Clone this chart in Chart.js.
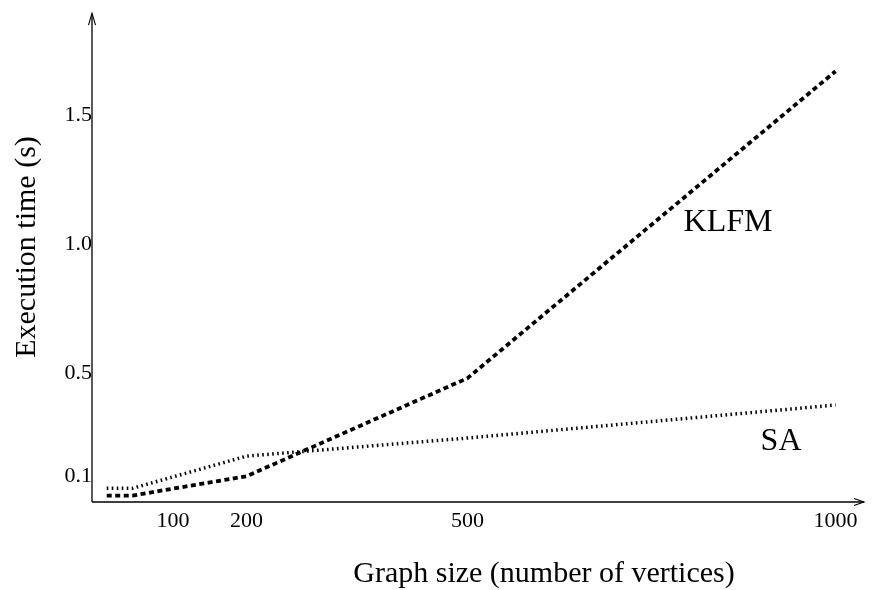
<!DOCTYPE html>
<html><head><meta charset="utf-8">
<script src="https://cdn.jsdelivr.net/npm/chart.js@4/dist/chart.umd.min.js"></script>
<style>html,body{margin:0;padding:0;background:#fff;}#wrap{width:874px;height:590px;}</style>
</head><body><div id="wrap"><canvas id="c" width="874" height="590"></canvas></div>
<script>
// ---- data ----
const vertices   = [10, 45, 200, 500, 1000];
const klfmTime   = [0.025, 0.025, 0.10, 0.48, 1.67];
const saTime     = [0.053, 0.053, 0.178, 0.248, 0.376];
const xTickValues = [100, 200, 500, 1000];
const yTickValues = [0.1, 0.5, 1.0, 1.5];
const seriesNames = ['KLFM', 'SA'];
const xTitle = 'Graph size (number of vertices)';
const yTitle = 'Execution time (s)';

const FONT = "'Liberation Serif', 'Times New Roman', serif";

const decorPlugin = {
  id: 'decor',
  afterDraw(chart, args, opts) {
    const ctx = chart.ctx, a = chart.chartArea;
    const xs = chart.scales.x, ys = chart.scales.y;
    ctx.save();
    ctx.strokeStyle = '#000';
    ctx.fillStyle = '#000';
    ctx.lineWidth = 1.3;
    // axes
    ctx.beginPath();
    ctx.moveTo(a.left, a.bottom); ctx.lineTo(a.right - 1, a.bottom);
    ctx.moveTo(a.left, a.bottom); ctx.lineTo(a.left, a.top + 1);
    ctx.stroke();
    // arrow heads
    ctx.lineWidth = 1.1;
    ctx.beginPath();
    ctx.moveTo(a.right - 11, a.bottom - 3.5); ctx.lineTo(a.right - 1, a.bottom); ctx.lineTo(a.right - 11, a.bottom + 3.5);
    ctx.moveTo(a.left - 3.5, a.top + 12); ctx.lineTo(a.left, a.top); ctx.lineTo(a.left + 3.5, a.top + 12);
    ctx.stroke();
    // axis titles
    ctx.font = '30px ' + FONT;
    ctx.textAlign = 'center';
    ctx.textBaseline = 'middle';
    ctx.fillText(xTitle, 544, 574);
    ctx.save();
    ctx.translate(27, 247);
    ctx.rotate(-Math.PI / 2);
    ctx.fillText(yTitle, 0, 0);
    ctx.restore();
    // series labels
    ctx.font = '32px ' + FONT;
    opts.labels.forEach(l => {
      ctx.fillText(l.text, xs.getPixelForValue(l.x), ys.getPixelForValue(l.y));
    });
    ctx.restore();
  }
};

new Chart(document.getElementById('c'), {
  type: 'line',
  data: {
    datasets: [
      {
        label: seriesNames[0],
        data: vertices.map((v, i) => ({ x: v, y: klfmTime[i] })),
        borderColor: '#000',
        borderWidth: 3.8,
        borderDash: [5, 3.5],
        borderCapStyle: 'butt',
        pointRadius: 0,
        tension: 0,
        fill: false
      },
      {
        label: seriesNames[1],
        data: vertices.map((v, i) => ({ x: v, y: saTime[i] })),
        borderColor: '#000',
        borderWidth: 3.5,
        borderDash: [1.6, 3.4],
        borderCapStyle: 'butt',
        pointRadius: 0,
        tension: 0,
        fill: false
      }
    ]
  },
  options: {
    responsive: false,
    devicePixelRatio: 1,
    animation: false,
    layout: { padding: { top: 13, right: 9, left: 0, bottom: 0 } },
    plugins: {
      legend: { display: false },
      tooltip: { enabled: false },
      decor: {
        labels: [
          { text: seriesNames[0], x: 854, y: 1.085 },
          { text: seriesNames[1], x: 926, y: 0.236 }
        ]
      }
    },
    scales: {
      x: {
        type: 'linear',
        min: -10,
        max: 1040,
        grid: { display: false, drawTicks: false },
        border: { display: false },
        ticks: {
          font: { family: FONT, size: 22 },
          color: '#000',
          padding: 6,
          autoSkip: false,
          maxRotation: 0,
          callback: v => String(v)
        },
        afterBuildTicks: s => { s.ticks = xTickValues.map(v => ({ value: v })); },
        afterFit: s => { s.height = 88; }
      },
      y: {
        type: 'linear',
        min: 0,
        max: 1.895,
        grid: { display: false, drawTicks: false },
        border: { display: false },
        ticks: {
          font: { family: FONT, size: 22 },
          color: '#000',
          padding: 0,
          autoSkip: false,
          callback: v => Number(v).toFixed(1)
        },
        afterBuildTicks: s => { s.ticks = yTickValues.map(v => ({ value: v })); },
        afterFit: s => { s.width = 92; }
      }
    }
  },
  plugins: [decorPlugin]
});
</script>
</body></html>
